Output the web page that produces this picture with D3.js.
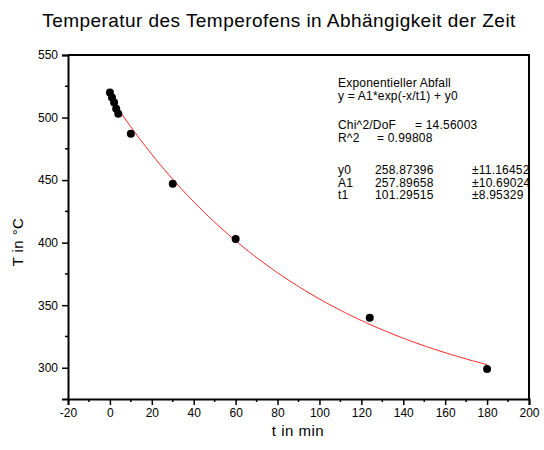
<!DOCTYPE html>
<html>
<head>
<meta charset="utf-8">
<script src="https://cdn.jsdelivr.net/npm/d3@7"></script>
<style>
  body { margin: 0; background: #fff; }
  svg { display: block; font-family: "Liberation Sans", Arial, Helvetica, sans-serif; }
</style>
</head>
<body>
<svg id="chart" width="544" height="450"></svg>
<script>
// Measured oven temperatures over time
const times = [0, 1, 2, 3, 4, 10, 30, 60, 124, 180];
const temps = [520, 516, 512, 507, 503, 487, 447, 403, 340, 299];

// Exponential decay fit: T = A1*exp(-t/t1) + y0
const fitY0 = 258.87396;
const fitA1 = 257.89658;
const fitT1 = 101.29515;

const xTicks = [-20, 0, 20, 40, 60, 80, 100, 120, 140, 160, 180, 200];
const yTicks = [300, 350, 400, 450, 500, 550];

const fitHeader = ["Exponentieller Abfall", "y = A1*exp(-x/t1) + y0"];
const statNames = ["Chi^2/DoF", "R^2"];
const statValues = ["= 14.56003", "=  0.99808"];
const paramNames = ["y0", "A1", "t1"];
const paramValues = ["258.87396", "257.89658", "101.29515"];
const paramErrors = ["\u00b111.16452", "\u00b110.69024", "\u00b18.95329"];

const title = "Temperatur des Temperofens in Abhängigkeit der Zeit";
const xLabel = "t in min";
const yLabel = "T in °C";

const svg = d3.select("#chart");
const m = { left: 68, right: 529, top: 55, bottom: 399 };

const x = d3.scaleLinear().domain([-20, 200]).range([m.left, m.right]);
const y = d3.scaleLinear().domain([275, 550]).range([m.bottom, m.top]);

// Frame (top and right edges)
svg.append("path")
  .attr("d", `M${m.left},${m.top}H${m.right}V${m.bottom}`)
  .attr("fill", "none").attr("stroke", "#000").attr("stroke-width", 2);

// X axis: major ticks with labels, minor ticks in between
const minorX = d3.range(-10, 200, 20);
const xAxis = d3.axisBottom(x).tickValues(xTicks).tickSize(6).tickPadding(3).tickFormat(d => String(d));
const gx = svg.append("g").attr("transform", `translate(0,${m.bottom})`).call(xAxis);
gx.append("g").selectAll("line").data(minorX).join("line")
  .attr("x1", d => x(d)).attr("x2", d => x(d)).attr("y1", 0).attr("y2", 3)
  .attr("stroke", "#000").attr("stroke-width", 1.5);

// Y axis
const minorY = d3.range(325, 550, 50);
const yAxis = d3.axisLeft(y).tickValues(yTicks).tickSize(6).tickPadding(4).tickFormat(d => String(d));
const gy = svg.append("g").attr("transform", `translate(${m.left},0)`).call(yAxis);
gy.append("g").selectAll("line").data(minorY).join("line")
  .attr("x1", 0).attr("x2", -3).attr("y1", d => y(d)).attr("y2", d => y(d))
  .attr("stroke", "#000").attr("stroke-width", 1.5);

[gx, gy].forEach(g => {
  g.select(".domain").attr("stroke-width", 2);
  g.selectAll(".tick line").attr("stroke-width", 1.5);
  g.selectAll(".tick text").attr("font-size", 12).attr("fill", "#000")
    .attr("font-family", "'Liberation Sans', Arial, sans-serif");
});

// Fitted curve
const curvePts = d3.range(0, 180.01, 1).map(t => [t, fitA1 * Math.exp(-t / fitT1) + fitY0]);
svg.append("path")
  .datum(curvePts)
  .attr("d", d3.line().x(d => x(d[0])).y(d => y(d[1])))
  .attr("fill", "none").attr("stroke", "#ff2020").attr("stroke-width", 1);

// Data points
svg.append("g").selectAll("circle").data(times).join("circle")
  .attr("cx", d => x(d)).attr("cy", (d, i) => y(temps[i])).attr("r", 4)
  .attr("fill", "#000");

// Titles
svg.append("text").attr("x", 279).attr("y", 27).attr("text-anchor", "middle")
  .attr("font-size", 19).attr("letter-spacing", 0.45).text(title);
svg.append("text").attr("x", 298).attr("y", 436).attr("text-anchor", "middle")
  .attr("font-size", 15).attr("letter-spacing", 0.5).text(xLabel);
svg.append("text").attr("transform", "translate(23,242) rotate(-90)")
  .attr("text-anchor", "middle").attr("font-size", 15).attr("letter-spacing", 0.4).text(yLabel);

// Fit results box
const note = svg.append("g").attr("font-size", 12).attr("letter-spacing", 0.2).attr("fill", "#000");
fitHeader.forEach((t, i) => note.append("text").attr("x", 338).attr("y", 87 + i * 13).text(t));
statNames.forEach((t, i) => {
  note.append("text").attr("x", 338).attr("y", 129 + i * 13).text(t);
  note.append("text").attr("x", i === 0 ? 415 : 377).attr("y", 129 + i * 13).text(statValues[i]);
});
paramNames.forEach((t, i) => {
  const yy = 174 + i * 12.5;
  note.append("text").attr("x", 338).attr("y", yy).text(t);
  note.append("text").attr("x", 375).attr("y", yy).text(paramValues[i]);
  note.append("text").attr("x", 472).attr("y", yy).text(paramErrors[i]);
});
</script>
</body>
</html>
